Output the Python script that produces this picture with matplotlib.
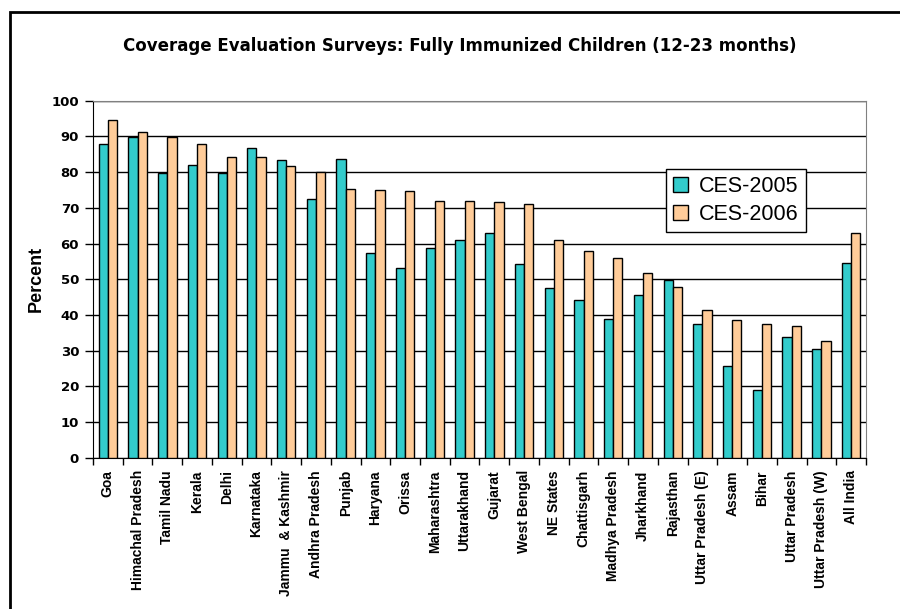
import numpy as np
import matplotlib
matplotlib.use("Agg")
import matplotlib.pyplot as plt
from matplotlib.patches import Rectangle
from matplotlib.ticker import MultipleLocator

plt.rcParams['font.family'] = ['Liberation Sans', 'DejaVu Sans']

states = ["Goa", "Himachal Pradesh", "Tamil Nadu", "Kerala", "Delhi", "Karnataka",
          "Jammu  & Kashmir", "Andhra Pradesh", "Punjab", "Haryana", "Orissa",
          "Maharashtra", "Uttarakhand", "Gujarat", "West Bengal", "NE States",
          "Chattisgarh", "Madhya Pradesh", "Jharkhand", "Rajasthan",
          "Uttar Pradesh (E)", "Assam", "Bihar", "Uttar Pradesh",
          "Uttar Pradesh (W)", "All India"]
ces_2005 = [87.8, 89.7, 79.7, 82.0, 79.7, 86.8, 83.3, 72.5, 83.7, 57.3, 53.1,
            58.8, 61.1, 63.0, 54.3, 47.5, 44.3, 38.9, 45.6, 49.8, 37.5, 25.7,
            18.9, 33.7, 30.5, 54.5]
ces_2006 = [94.5, 91.3, 89.7, 87.8, 84.3, 84.3, 81.7, 80.1, 75.4, 75.0, 74.6,
            72.0, 72.0, 71.7, 71.1, 61.0, 57.8, 55.9, 51.8, 47.8, 41.5, 38.6,
            37.5, 37.0, 32.8, 63.0]

x = np.arange(len(states))
w = 0.31

fig = plt.figure(figsize=(9, 6.09), dpi=100)
ax = fig.add_axes([0.1033, 0.2484, 0.8589, 0.5862])

ax.bar(x - w / 2, ces_2005, w, color='#33CCCC', edgecolor='black', linewidth=1,
       label='CES-2005', zorder=3)
ax.bar(x + w / 2, ces_2006, w, color='#FFCC99', edgecolor='black', linewidth=1,
       label='CES-2006', zorder=3)

ax.set_xlim(-0.5, len(states) - 0.5)
ax.set_ylim(0, 100)
ax.yaxis.set_major_locator(MultipleLocator(10))
ax.grid(axis='y', color='black', linewidth=1, zorder=0)

ax.set_xticks(x)
ax.set_xticklabels(states, rotation=90, fontsize=10, fontweight='bold', va='top')
ax.set_xticks(np.arange(len(states) + 1) - 0.5, minor=True)
ax.tick_params(axis='x', which='major', length=0, pad=9)
ax.tick_params(axis='x', which='minor', length=5, width=1, direction='out')
ax.tick_params(axis='y', length=6, width=1, direction='out', pad=4)
for lbl in ax.get_yticklabels():
    lbl.set_fontfamily('DejaVu Sans')
    lbl.set_fontweight('bold')
    lbl.set_fontsize(9.5)

for side in ('top', 'right'):
    ax.spines[side].set_color('#808080')
for side in ('left', 'bottom'):
    ax.spines[side].set_color('black')

ax.set_ylabel('Percent', fontsize=13, fontweight='bold', labelpad=5)

fig.text(0.511, 0.924, 'Coverage Evaluation Surveys: Fully Immunized Children (12-23 months)',
         ha='center', va='center', fontsize=12, fontweight='bold', family='DejaVu Sans')

leg = ax.legend(loc='upper left', bbox_to_anchor=(0.741, 0.809), borderaxespad=0,
                fontsize=15.5, fancybox=False, framealpha=1, edgecolor='black',
                handlelength=0.7, handleheight=0.7, handletextpad=0.5,
                labelspacing=0.3, borderpad=0.35)
leg.get_frame().set_linewidth(1)

# outer frame around the whole chart area
fig.patches.append(Rectangle((0.0106, -0.05), 1.05, 1.031, transform=fig.transFigure,
                             fill=False, edgecolor='black', linewidth=2))

fig.savefig('out.png', dpi=100)
